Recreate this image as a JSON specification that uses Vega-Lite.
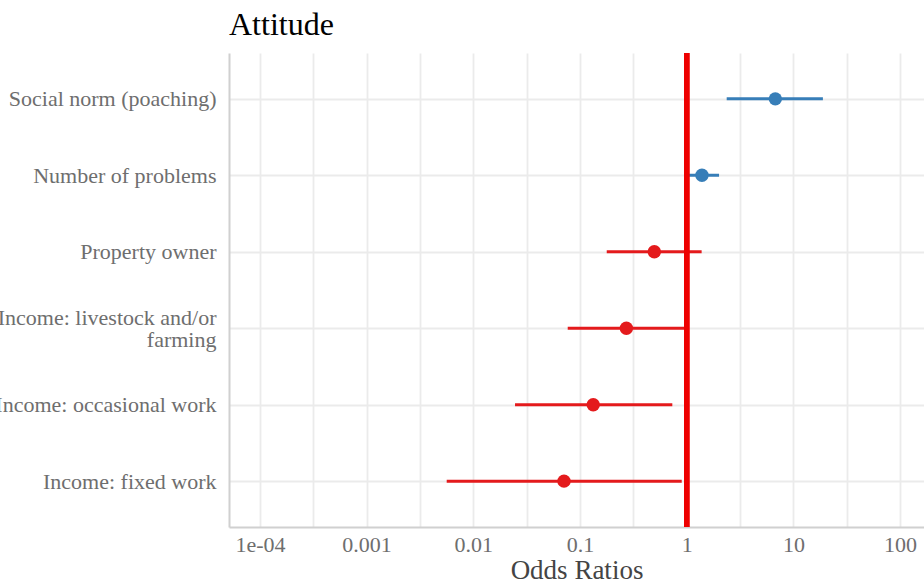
{
  "$schema": "https://vega.github.io/schema/vega-lite/v6.json",
  "width": 695,
  "height": 474,
  "autosize": {"type": "none"},
  "padding": {"left": 229, "top": 53, "right": 0, "bottom": 57},
  "background": "white",
  "title": {
    "text": "Attitude",
    "anchor": "start",
    "frame": "group",
    "font": "Liberation Serif",
    "fontSize": 32,
    "fontWeight": "normal",
    "color": "#000000",
    "offset": 9
  },
  "config": {
    "view": {"stroke": null},
    "axis": {
      "labelFont": "Liberation Serif",
      "titleFont": "Liberation Serif",
      "labelColor": "#6e6e6e",
      "titleColor": "#444444",
      "labelFontSize": 22,
      "labelLimit": 0,
      "titleFontWeight": "normal",
      "ticks": false,
      "domainColor": "#d0d0d0",
      "domainWidth": 2,
      "gridColor": "#ebebeb",
      "gridWidth": 1.8
    }
  },
  "data": {
    "values": [
      {"term": "Social norm (poaching)", "est": 6.77, "lo": 2.37, "hi": 18.9, "dir": "pos"},
      {"term": "Number of problems", "est": 1.39, "lo": 0.96, "hi": 2.01, "dir": "pos"},
      {"term": "Property owner", "est": 0.497, "lo": 0.178, "hi": 1.38, "dir": "neg"},
      {"term": "Income: livestock and/or|farming", "est": 0.272, "lo": 0.0767, "hi": 0.96, "dir": "neg"},
      {"term": "Income: occasional work", "est": 0.133, "lo": 0.0246, "hi": 0.733, "dir": "neg"},
      {"term": "Income: fixed work", "est": 0.0708, "lo": 0.00563, "hi": 0.898, "dir": "neg"}
    ]
  },
  "layer": [
    {
      "mark": {"type": "rule", "strokeWidth": 3},
      "encoding": {
        "y": {
          "field": "term",
          "type": "nominal",
          "scale": {"type": "point", "padding": 0.6, "domain": ["Social norm (poaching)", "Number of problems", "Property owner", "Income: livestock and/or|farming", "Income: occasional work", "Income: fixed work"]},
          "axis": {
            "title": null,
            "grid": true,
            "labelPadding": 13,
            "labelLineHeight": 22,
            "labelOffset": {"condition": {"test": "indexof(datum.value, '|') >= 0", "value": -11}, "value": 0},
            "labelExpr": "split(datum.label, '|')"
          }
        },
        "x": {
          "field": "lo",
          "type": "quantitative",
          "scale": {"type": "log", "domain": [0.0000513, 167.5], "nice": false, "zero": false},
          "axis": {
            "title": "Odds Ratios",
            "titleFontSize": 27,
            "titlePadding": 2,
            "labelPadding": 7,
            "labelFlush": false,
            "labelOverlap": false,
            "values": [0.0001, 0.000316228, 0.001, 0.00316228, 0.01, 0.0316228, 0.1, 0.316228, 1, 3.16228, 10, 31.6228, 100],
            "labelExpr": "datum.value < 0.00011 ? '1e-04' : (abs(log(datum.value)/LN10 - round(log(datum.value)/LN10)) < 0.01 ? format(datum.value, '~g') : '')"
          }
        },
        "x2": {"field": "hi"},
        "color": {
          "field": "dir",
          "type": "nominal",
          "scale": {"domain": ["neg", "pos"], "range": ["#E41A1C", "#377EB8"]},
          "legend": null
        }
      }
    },
    {
      "mark": {"type": "rule", "color": "#ee0000", "strokeWidth": 5},
      "encoding": {
        "x": {"datum": 1, "type": "quantitative"}
      }
    },
    {
      "mark": {"type": "point", "filled": true, "size": 180, "opacity": 1},
      "encoding": {
        "y": {"field": "term", "type": "nominal"},
        "x": {"field": "est", "type": "quantitative"},
        "color": {"field": "dir", "type": "nominal", "legend": null}
      }
    }
  ]
}
